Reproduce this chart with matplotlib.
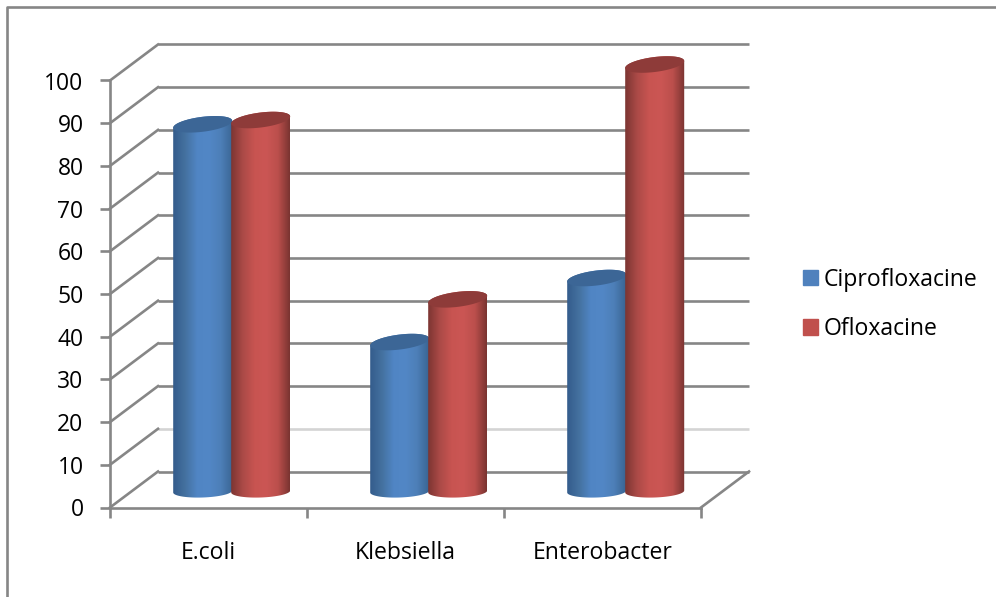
import numpy as np
import matplotlib
matplotlib.use('Agg')
import matplotlib.pyplot as plt
from matplotlib.colors import LinearSegmentedColormap
from matplotlib.lines import Line2D
from matplotlib.patches import Patch, Polygon

categories = ['E.coli', 'Klebsiella', 'Enterobacter']
series_names = ['Ciprofloxacine', 'Ofloxacine']
ciprofloxacine = [86, 35, 50]
ofloxacine = [87, 45, 100]
y_ticks = [0, 10, 20, 30, 40, 50, 60, 70, 80, 90, 100]

plt.rcParams['font.family'] = ['Open Sans', 'DejaVu Sans']
GRAY = '#868686'
LW = 1.9

W, H = 996, 597
fig = plt.figure(figsize=(W / 100, H / 100), dpi=100)
x0, x1, y0, y1 = 110, 701, 507.5, 80.5
ax = fig.add_axes([x0 / W, 1 - y0 / H, (x1 - x0) / W, (y0 - y1) / H])
ax.set_xlim(0, 3)
ax.set_ylim(0, 100)

# size of one data unit in pixels, used to turn depth offsets into data units
px_x = (x1 - x0) / 3
px_y = (y0 - y1) / 100
depth_x = 48 / px_x
depth_y = 36 / px_y

# chart frame
fig.add_artist(Line2D([7 / W, 7 / W, 1], [0, 1 - 7 / H, 1 - 7 / H], color=GRAY, lw=LW))

# back wall lines and the slanted side wall lines
for v in y_ticks:
    c = '#d4d4d4' if v == 10 else GRAY
    ax.plot([depth_x, 3 + depth_x], [v + depth_y, v + depth_y], color=c, lw=LW, clip_on=False, zorder=1,
            solid_capstyle='butt')
    ax.plot([0, depth_x], [v, v + depth_y], color=GRAY, lw=LW, clip_on=False, zorder=1)
ax.plot([3, 3 + depth_x], [0, depth_y], color=GRAY, lw=LW, clip_on=False, zorder=1)


def cylinder(xc, value, side_colors, top_color, z):
    half = 29.5 / px_x
    base = 16 / px_y
    b = 7.5 / px_y
    t = np.linspace(0, np.pi, 60)
    # top rim leans up to the right a little, bottom rim less so
    tilt_top = 3.5 / px_y
    tilt_bot = 1 / px_y
    top_y = base + value
    bx = xc - half * np.cos(t)
    by = base - (b - 1.5 / px_y) * np.sin(t) + tilt_bot * (-np.cos(t))
    tx = xc + half * np.cos(t)
    ty = top_y + b * np.sin(t) + tilt_top * np.cos(t)
    outline = Polygon(np.column_stack([np.r_[bx, tx], np.r_[by, ty]]), closed=True,
                      transform=ax.transData, fc='none', ec='none')
    ax.add_patch(outline)
    outline.set_clip_on(False)

    cmap = LinearSegmentedColormap.from_list('side', side_colors)
    im = ax.imshow(np.linspace(0, 1, 128)[None, :], cmap=cmap, aspect='auto', interpolation='bilinear',
                   extent=[xc - half, xc + half, -5, 115], zorder=z)
    im.set_clip_box(fig.bbox)
    im.set_clip_path(outline)

    # top face
    a = np.linspace(0, 2 * np.pi, 120)
    ex = xc + half * np.cos(a)
    ey = top_y + b * np.sin(a) + tilt_top * np.cos(a)
    ax.fill(ex, ey, color=top_color, lw=0, clip_on=False, zorder=z + 0.5)


blue_side = ['#345c8c', '#44719f', '#5085c4', '#5287c6', '#4d7fb8', '#3a6593']
red_side = ['#7c3532', '#ab4a47', '#c85451', '#cb5654', '#bb4f4c', '#7a3431']
blue_top = '#3c6696'
red_top = '#8e3b39'

bar_w = 58 / px_x
for i in range(3):
    xc = i + 0.5 + (depth_x - 1.6 / px_x) / 2
    cylinder(xc - bar_w / 2, ciprofloxacine[i], blue_side, blue_top, 3)
    cylinder(xc + bar_w / 2, ofloxacine[i], red_side, red_top, 4)

ax.set_xlim(0, 3)
ax.set_ylim(0, 100)

# axes, ticks and labels
for s in ['top', 'right']:
    ax.spines[s].set_visible(False)
for s in ['left', 'bottom']:
    ax.spines[s].set_color(GRAY)
    ax.spines[s].set_linewidth(LW)
ax.patch.set_alpha(0)
ax.set_yticks(y_ticks)
ax.set_xticks([0, 1, 2, 3])
ax.set_xticklabels([])
ax.set_xticks([0.5, 1.5, 2.5], categories, minor=True)
ax.tick_params(axis='y', length=7, width=LW, color=GRAY, labelsize=16.5, pad=12, labelcolor='black')
ax.tick_params(axis='x', which='major', length=7, width=LW, color=GRAY)
ax.tick_params(axis='x', which='minor', length=0, labelsize=16.6, pad=24, labelcolor='black')

handles = [Patch(color='#4f81bd', label=series_names[0]), Patch(color='#c0504d', label=series_names[1])]
fig.legend(handles=handles, loc='center left', bbox_to_anchor=(801 / W, 1 - 304.5 / H), frameon=False,
           fontsize=16.6, handlelength=0.65, handleheight=0.65, handletextpad=0.25, labelspacing=1.1,
           borderpad=0.1, borderaxespad=0)

fig.savefig('out.png', dpi=100)
